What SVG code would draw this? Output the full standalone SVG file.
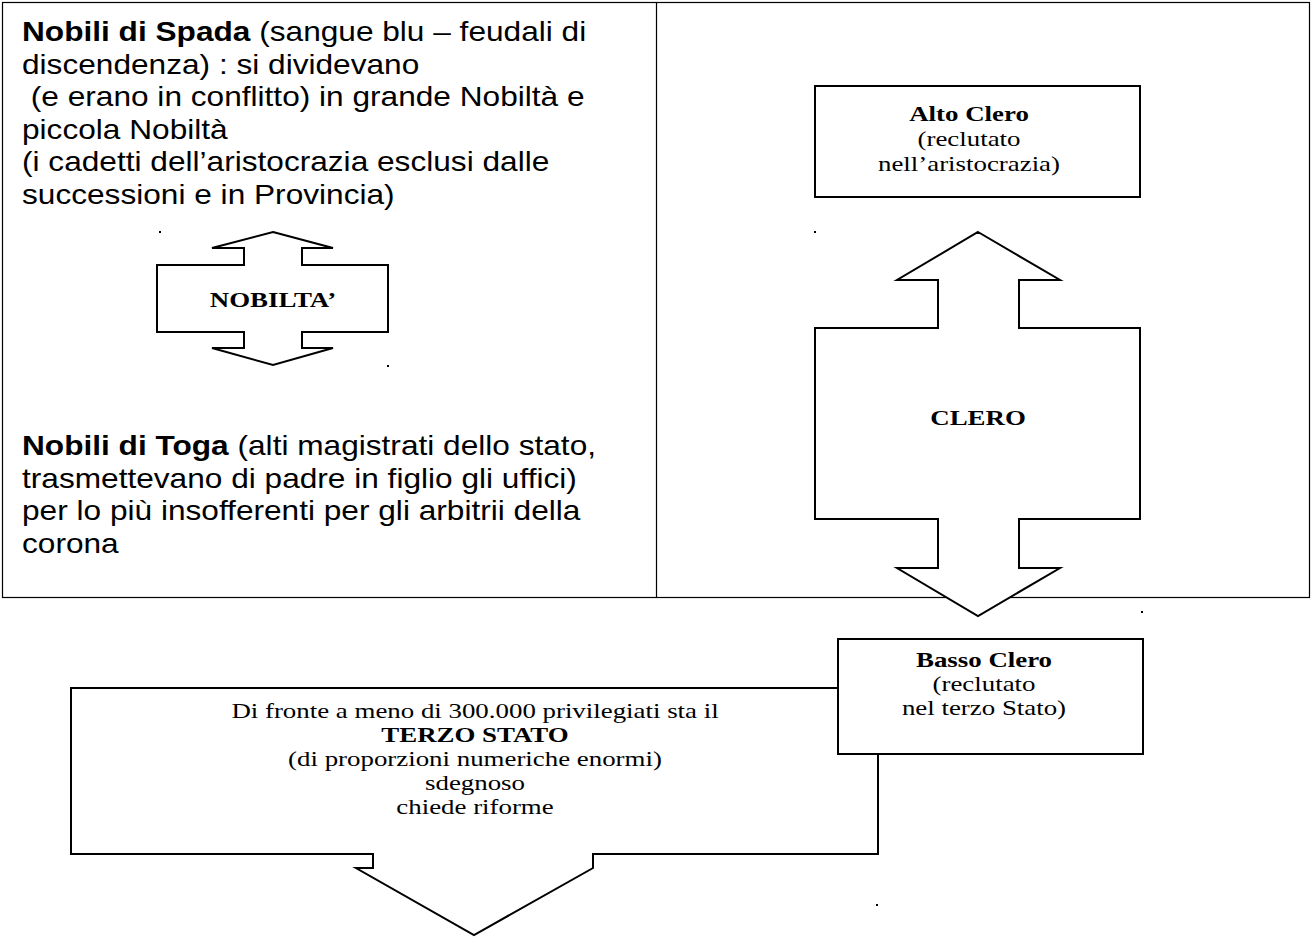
<svg xmlns="http://www.w3.org/2000/svg" width="1313" height="938" viewBox="0 0 1313 938">
<style>
.sans{font-family:"Liberation Sans",Arial,sans-serif;font-size:28px;fill:#000}
.serif{font-family:"Liberation Serif","Times New Roman",serif;font-size:21.5px;fill:#000}
.b{font-weight:bold}
.shape{fill:#fff;stroke:#000;stroke-width:2}
.grid{fill:none;stroke:#000;stroke-width:1.2}
.dot{fill:#000}
</style>
<rect width="1313" height="938" fill="#fff"/>
<g id="table">
<rect class="grid" x="2.5" y="2.5" width="1307" height="595"/>
<line class="grid" x1="656.5" y1="2.5" x2="656.5" y2="597.5"/>
</g>
<g id="nobili-spada">
<text class="sans" transform="translate(22,0) scale(1.13,1)"><tspan x="0" y="41"><tspan class="b">Nobili di Spada</tspan> (sangue blu – feudali di</tspan><tspan x="0" y="74">discendenza) : si dividevano</tspan><tspan x="0" y="106"> (e erano in conflitto) in grande Nobiltà e</tspan><tspan x="0" y="139">piccola Nobiltà</tspan><tspan x="0" y="171">(i cadetti dell’aristocrazia esclusi dalle</tspan><tspan x="0" y="204">successioni e in Provincia)</tspan></text>
</g>
<g id="nobili-toga">
<text class="sans" transform="translate(22,0) scale(1.13,1)"><tspan x="0" y="455"><tspan class="b">Nobili di Toga</tspan> (alti magistrati dello stato,</tspan><tspan x="0" y="488">trasmettevano di padre in figlio gli uffici)</tspan><tspan x="0" y="520">per lo più insofferenti per gli arbitrii della</tspan><tspan x="0" y="553">corona</tspan></text>
</g>
<g id="nobilta">
<polygon class="shape" points="273,232 333,248 302,248 302,265 388,265 388,332 302,332 302,348 333,348 273,365 212,348 244,348 244,332 157,332 157,265 244,265 244,248 212,248"/>
<text class="serif b" transform="translate(273,0) scale(1.25,1)" x="0" y="307" text-anchor="middle">NOBILTA’</text>
</g>
<g id="alto-clero">
<rect class="shape" x="815" y="86" width="325" height="111"/>
<text class="serif" text-anchor="middle" transform="translate(969,0) scale(1.25,1)"><tspan class="b" x="0" y="121">Alto Clero</tspan><tspan x="0" y="146">(reclutato</tspan><tspan x="0" y="171">nell’aristocrazia)</tspan></text>
</g>
<g id="clero">
<polygon class="shape" points="978,232 1060,280 1019,280 1019,328 1140,328 1140,519 1019,519 1019,568 1060,568 978,616 897,568 938,568 938,519 815,519 815,328 938,328 938,280 897,280"/>
<text class="serif b" transform="translate(978,0) scale(1.25,1)" x="0" y="425" text-anchor="middle">CLERO</text>
</g>
<g id="terzo-stato">
<polygon class="shape" points="71,688 878,688 878,854 593,854 593,868 474,935 356,868 373,868 373,854 71,854"/>
<text class="serif" text-anchor="middle" transform="translate(475,0) scale(1.25,1)"><tspan x="0" y="718">Di fronte a meno di 300.000 privilegiati sta il</tspan><tspan class="b" x="0" y="742">TERZO STATO</tspan><tspan x="0" y="766">(di proporzioni numeriche enormi)</tspan><tspan x="0" y="790">sdegnoso</tspan><tspan x="0" y="814">chiede riforme</tspan></text>
</g>
<g id="basso-clero">
<rect class="shape" x="838" y="639" width="305" height="115"/>
<text class="serif" text-anchor="middle" transform="translate(984,0) scale(1.25,1)"><tspan class="b" x="0" y="667">Basso Clero</tspan><tspan x="0" y="691">(reclutato</tspan><tspan x="0" y="715">nel terzo Stato)</tspan></text>
</g>
<g id="marks">
<rect class="dot" x="159" y="231" width="2" height="2"/>
<rect class="dot" x="387" y="365" width="2" height="2"/>
<rect class="dot" x="814" y="231" width="2" height="2"/>
<rect class="dot" x="1141" y="611" width="2" height="2"/>
<rect class="dot" x="876" y="904" width="2" height="2"/>
</g>
</svg>
